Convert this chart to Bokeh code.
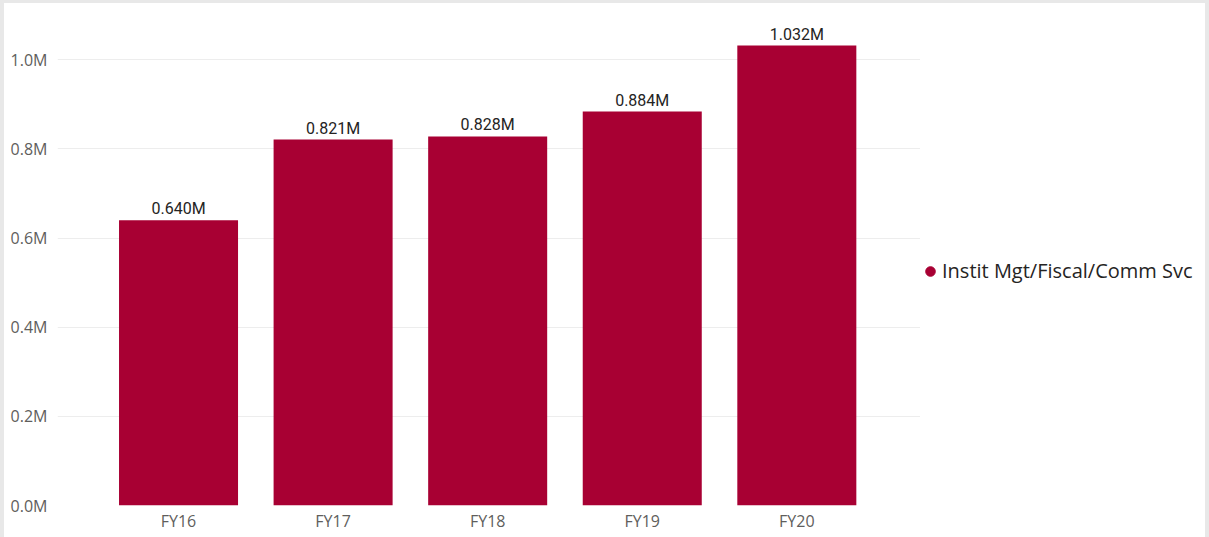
import math
from bokeh.plotting import figure
from bokeh.layouts import row
from bokeh.models import (ColumnDataSource, Range1d, FixedTicker, PrintfTickFormatter,
                          Legend, LegendItem, LabelSet)
from bokeh.core.properties import value
from bokeh.embed import file_html
from bokeh.resources import INLINE

# ---- data ----
categories = ["FY16", "FY17", "FY18", "FY19", "FY20"]
values_m = [0.640, 0.821, 0.828, 0.884, 1.032]   # millions
y_ticks = [0.0, 0.2, 0.4, 0.6, 0.8, 1.0]
series_name = "Instit Mgt/Fiscal/Comm Svc"

BAR = "#A80033"
xs = list(range(len(categories)))
src = ColumnDataSource(dict(x=xs, top=values_m,
                            label=[f"{v:.3f}M" for v in values_m]))

p = figure(width=920, height=537, output_backend="svg", toolbar_location=None,
           x_range=Range1d(-0.783, 4.826), y_range=Range1d(0, 1.086),
           min_border_left=53, min_border_right=0, min_border_top=18,
           min_border_bottom=35)
p.styles = {"border-top": "3px solid #E8E8E8", "border-left": "4px solid #E8E8E8"}
p.outline_line_color = None
p.background_fill_color = "white"
p.border_fill_color = "white"

p.vbar(x="x", top="top", width=0.77, source=src, fill_color=BAR, line_color=None)
labels = LabelSet(x="x", y="top", text="label", source=src, text_align="center",
                  text_baseline="alphabetic", y_offset=6, text_font=value("Roboto"),
                  text_font_size="16px", text_color="#252423")
p.add_layout(labels)

# axes
p.xaxis.ticker = FixedTicker(ticks=xs)
p.xaxis.major_label_overrides = {i: c for i, c in enumerate(categories)}
p.yaxis.ticker = FixedTicker(ticks=y_ticks)
p.yaxis.formatter = PrintfTickFormatter(format="%.1fM")
for ax in (p.xaxis, p.yaxis):
    ax.axis_line_color = None
    ax.major_tick_line_color = None
    ax.minor_tick_line_color = None
    ax.major_tick_out = 0
    ax.major_tick_in = 0
    ax.minor_tick_out = 0
    ax.major_label_text_font = "Open Sans"
    ax.major_label_text_font_size = "16px"
    ax.major_label_text_color = "#605E5C"
p.yaxis.major_label_standoff = 10
p.xaxis.major_label_standoff = 4

p.xgrid.grid_line_color = None
p.ygrid.grid_line_color = "#EDEDED"
p.ygrid.grid_line_width = 1

# legend panel (separate figure to the right)
lg = figure(width=289, height=537, output_backend="svg", toolbar_location=None,
            x_axis_type=None, y_axis_type=None, x_range=Range1d(0, 1),
            y_range=Range1d(0, 1), min_border=0)
lg.styles = {"border-top": "3px solid #E8E8E8", "border-right": "4px solid #E8E8E8"}
lg.outline_line_color = None
lg.grid.visible = False
r = lg.scatter(x=[math.nan], y=[math.nan], marker="circle", size=10,
               fill_color=BAR, line_color=BAR)
legend = Legend(items=[LegendItem(label=series_name, renderers=[r])],
                location=(-2, 221), margin=0, padding=0, glyph_width=24,
                glyph_height=24, label_standoff=-9, border_line_color=None,
                background_fill_alpha=0, label_text_font="Open Sans",
                label_text_font_size="20px", label_text_color="#252423")
lg.add_layout(legend, "center")

layout = row(p, lg, spacing=0)
open("out.html", "w").write(file_html(layout, INLINE))
